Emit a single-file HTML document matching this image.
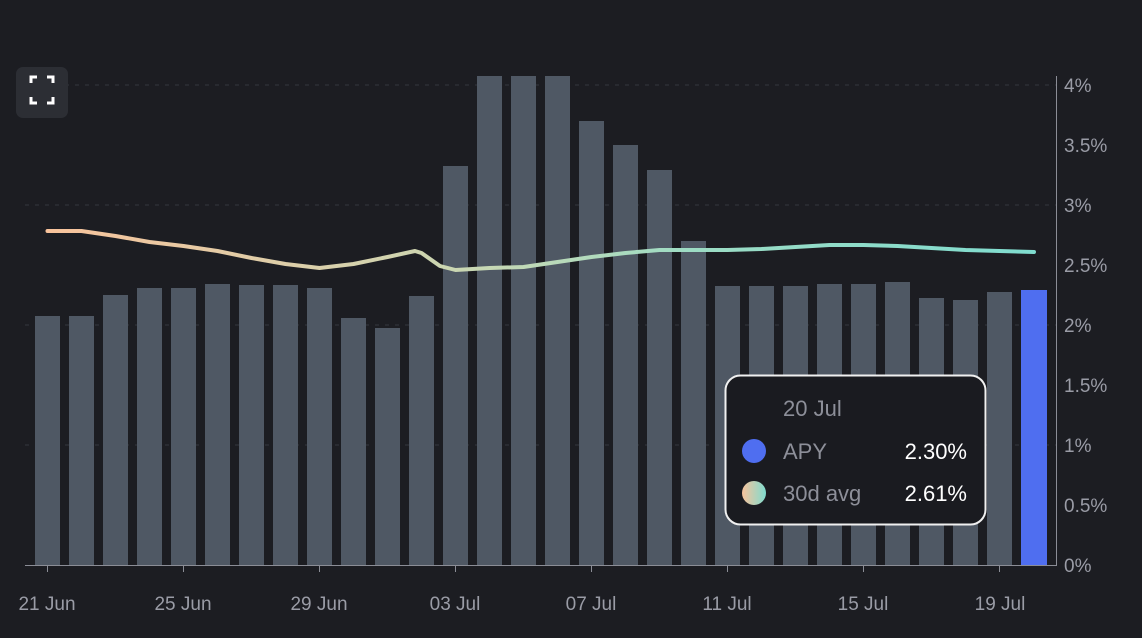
<!DOCTYPE html>
<html><head><meta charset="utf-8"><style>
body{margin:0;background:#1c1d22;width:1142px;height:638px;overflow:hidden;font-family:"Liberation Sans",sans-serif}
</style></head><body>
<svg width="1142" height="638" xmlns="http://www.w3.org/2000/svg" style="position:absolute;left:0;top:0">
<defs><linearGradient id="g" x1="47" y1="0" x2="1036" y2="0" gradientUnits="userSpaceOnUse">
<stop offset="0" stop-color="#f8c39c"/><stop offset="0.45" stop-color="#c6d8b4"/><stop offset="0.65" stop-color="#9ddcc4"/><stop offset="1" stop-color="#7fdccf"/></linearGradient>
<linearGradient id="g2" x1="0" y1="0" x2="1" y2="0"><stop offset="0" stop-color="#f8c39c"/><stop offset="1" stop-color="#7fdccf"/></linearGradient></defs>
<g stroke="#34363d" stroke-dasharray="4 6" stroke-width="1">
<line x1="25" x2="1056" y1="85" y2="85"/><line x1="25" x2="1056" y1="205" y2="205"/><line x1="25" x2="1056" y1="325" y2="325"/><line x1="25" x2="1056" y1="445" y2="445"/>
</g>
<g fill="#4f5864">
<rect x="35" y="316" width="25" height="249"/><rect x="69" y="316" width="25" height="249"/><rect x="103" y="295" width="25" height="270"/><rect x="137" y="288" width="25" height="277"/><rect x="171" y="288" width="25" height="277"/><rect x="205" y="284" width="25" height="281"/><rect x="239" y="285" width="25" height="280"/><rect x="273" y="285" width="25" height="280"/><rect x="307" y="288" width="25" height="277"/><rect x="341" y="318" width="25" height="247"/><rect x="375" y="328" width="25" height="237"/><rect x="409" y="296" width="25" height="269"/><rect x="443" y="166" width="25" height="399"/><rect x="477" y="76" width="25" height="489"/><rect x="511" y="76" width="25" height="489"/><rect x="545" y="76" width="25" height="489"/><rect x="579" y="121" width="25" height="444"/><rect x="613" y="145" width="25" height="420"/><rect x="647" y="170" width="25" height="395"/><rect x="681" y="241" width="25" height="324"/><rect x="715" y="286" width="25" height="279"/><rect x="749" y="286" width="25" height="279"/><rect x="783" y="286" width="25" height="279"/><rect x="817" y="284" width="25" height="281"/><rect x="851" y="284" width="25" height="281"/><rect x="885" y="282" width="25" height="283"/><rect x="919" y="298" width="25" height="267"/><rect x="953" y="300" width="25" height="265"/><rect x="987" y="292" width="25" height="273"/>
</g>
<rect x="1021" y="290" width="26" height="275" fill="#4f6ef0"/>
<polyline fill="none" stroke="url(#g)" stroke-width="4" stroke-linejoin="round" stroke-linecap="round" points="47.5,231 81.5,231 115.5,236 149.5,242 183.5,246 217.5,251 251.5,258 285.5,264 319.5,268 353.5,264 387.5,257 415,251 421.5,253 440,266 455.5,270 489.5,268 523.5,267 557.5,262 591.5,257 625.5,253 659.5,250 693.5,250 727.5,250 761.5,249 795.5,247 829.5,245 863.5,245 897.5,246 931.5,248 965.5,250 999.5,251 1034,252"/>
<line x1="25" x2="1056" y1="565.5" y2="565.5" stroke="#8b8d96"/>
<line x1="1056.5" x2="1056.5" y1="76" y2="566" stroke="#8b8d96"/>
<g stroke="#8b8d96"><line x1="47.5" x2="47.5" y1="566" y2="572"/><line x1="183.5" x2="183.5" y1="566" y2="572"/><line x1="319.5" x2="319.5" y1="566" y2="572"/><line x1="455.5" x2="455.5" y1="566" y2="572"/><line x1="591.5" x2="591.5" y1="566" y2="572"/><line x1="727.5" x2="727.5" y1="566" y2="572"/><line x1="863.5" x2="863.5" y1="566" y2="572"/><line x1="999.5" x2="999.5" y1="566" y2="572"/></g>
<g fill="#9a9ca6" font-size="19" font-family="Liberation Sans, sans-serif">
<text x="1064" y="92">4%</text><text x="1064" y="152">3.5%</text><text x="1064" y="212">3%</text><text x="1064" y="272">2.5%</text><text x="1064" y="332">2%</text><text x="1064" y="392">1.5%</text><text x="1064" y="452">1%</text><text x="1064" y="512">0.5%</text><text x="1064" y="572">0%</text>
</g>
<g fill="#9a9ca6" font-size="19" text-anchor="middle" font-family="Liberation Sans, sans-serif">
<text x="47" y="610">21 Jun</text><text x="183" y="610">25 Jun</text><text x="319" y="610">29 Jun</text><text x="455" y="610">03 Jul</text><text x="591" y="610">07 Jul</text><text x="727" y="610">11 Jul</text><text x="863" y="610">15 Jul</text><text x="1000" y="610">19 Jul</text>
</g>
<rect x="16" y="67" width="52" height="51" rx="7" fill="#2c2e34"/>
<g stroke="#fff" stroke-width="3" fill="none"><path d="M31 83V77H37M47 77H53V83M53 97V103H47M37 103H31V97"/></g>
<rect x="725.5" y="375.5" width="260" height="149" rx="15" fill="#1a1b20" stroke="#f0f0f0" stroke-width="2"/>
<g font-size="22" font-family="Liberation Sans, sans-serif">
<text x="783" y="416" fill="#8d8f99">20 Jul</text>
<circle cx="754" cy="451" r="12" fill="#4f6ef0"/>
<text x="783" y="459" fill="#8d8f99">APY</text>
<text x="967" y="459" fill="#fff" text-anchor="end">2.30%</text>
<circle cx="754" cy="493" r="12" fill="url(#g2)"/>
<text x="783" y="501" fill="#8d8f99">30d avg</text>
<text x="967" y="501" fill="#fff" text-anchor="end">2.61%</text>
</g>
</svg>
</body></html>
